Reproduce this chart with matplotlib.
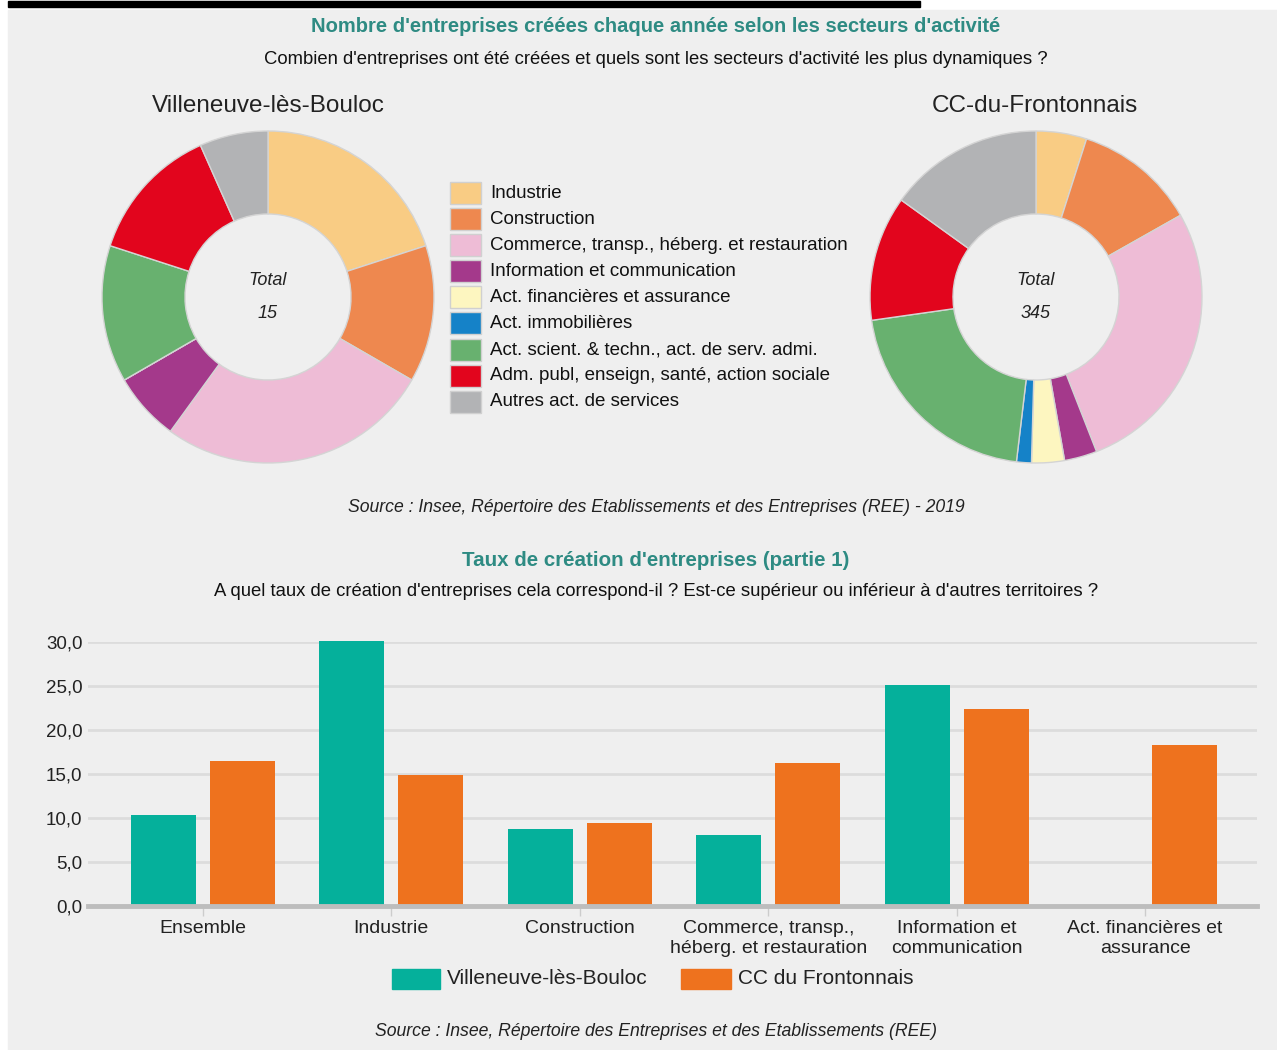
import matplotlib
matplotlib.use("Agg")
import matplotlib.pyplot as plt
from matplotlib.patches import Rectangle
import numpy as np

plt.rcParams['font.family'] = ['Liberation Sans', 'DejaVu Sans']

W, H = 1277, 1050

# donut data
sectors = ["Industrie", "Construction", "Commerce, transp., héberg. et restauration",
           "Information et communication", "Act. financières et assurance",
           "Act. immobilières", "Act. scient. & techn., act. de serv. admi.",
           "Adm. publ, enseign, santé, action sociale", "Autres act. de services"]
sector_colors = ["#f9cc84", "#ee884f", "#eebcd6", "#a4398b", "#fdf6c0",
                 "#1582c8", "#68b16f", "#e2051d", "#b2b3b5"]
villeneuve_counts = [3, 2, 4, 1, 0, 0, 2, 2, 1]
frontonnais_counts = [17, 41, 94, 11, 11, 5, 72, 42, 52]

# bar data
rate_categories = ["Ensemble", "Industrie", "Construction",
                   "Commerce, transp.,\nhéberg. et restauration",
                   "Information et\ncommunication", "Act. financières et\nassurance"]
rate_villeneuve = [10.3, 30.1, 8.7, 8.1, 25.1, 0.0]
rate_frontonnais = [16.5, 14.9, 9.4, 16.3, 22.4, 18.3]
yticks = [0, 5, 10, 15, 20, 25, 30]

TEAL_TXT = "#2e8b83"
C_VIL = "#05b09b"
C_CC = "#ee721e"


def fx(px):
    return px / W


def fy(py):
    return 1 - py / H


def box(x0, y0, x1, y1):
    # pixel box (top-left origin) -> figure rect
    return [fx(x0), fy(y1), (x1 - x0) / W, (y1 - y0) / H]


fig = plt.figure(figsize=(W / 100, H / 100), dpi=100)
fig.patch.set_facecolor("white")

# grey panel + cut-off heading underline
fig.patches.append(Rectangle((fx(8), fy(H)), 1 - fx(8), fy(10) - fy(H),
                             transform=fig.transFigure, color="#efefef", zorder=-10))
fig.patches.append(Rectangle((fx(8), fy(7)), fx(920) - fx(8), fy(1) - fy(7),
                             transform=fig.transFigure, color="black", zorder=-5))

# titles
fig.text(fx(656), fy(26), "Nombre d'entreprises créées chaque année selon les secteurs d'activité",
         ha="center", va="center", fontsize=14.5, fontweight="bold", color=TEAL_TXT)
fig.text(fx(656), fy(60), "Combien d'entreprises ont été créées et quels sont les secteurs d'activité les plus dynamiques ?",
         ha="center", va="center", fontsize=13.3, color="#111111")
fig.text(fx(268), fy(106), "Villeneuve-lès-Bouloc", ha="center", va="center", fontsize=17.5, color="#222222")
fig.text(fx(1035), fy(106), "CC-du-Frontonnais", ha="center", va="center", fontsize=17.5, color="#222222")


def donut(cx, cy, r, counts):
    ax = fig.add_axes(box(cx - r, cy - r, cx + r, cy + r))
    ax.pie(counts, colors=sector_colors, startangle=90, counterclock=False, radius=1,
           wedgeprops=dict(width=0.5, edgecolor="#d4d4d4", linewidth=1))
    ax.set_xlim(-1, 1)
    ax.set_ylim(-1, 1)
    ax.set_aspect("equal")
    ax.axis("off")
    ax.text(0, 0.1, "Total", ha="center", va="center", fontsize=13, style="italic", color="#222222")
    ax.text(0, -0.1, str(sum(counts)), ha="center", va="center", fontsize=13, style="italic", color="#222222")
    return ax


donut(268, 297, 166, villeneuve_counts)
donut(1036, 297, 166, frontonnais_counts)

# legend of sectors
for i, (lab, col) in enumerate(zip(sectors, sector_colors)):
    yc = 193 + i * 26.1
    fig.patches.append(Rectangle((fx(450), fy(yc + 11)), (481 - 450) / W, 22 / H,
                                 transform=fig.transFigure, facecolor=col,
                                 edgecolor="#d0d0d0", linewidth=1))
    fig.text(fx(490), fy(yc), lab, ha="left", va="center", fontsize=13.5, color="#111111")

fig.text(fx(656), fy(507), "Source : Insee, Répertoire des Etablissements et des Entreprises (REE) - 2019",
         ha="center", va="center", fontsize=12.7, style="italic", color="#222222")

fig.text(fx(656), fy(561), "Taux de création d'entreprises (partie 1)",
         ha="center", va="center", fontsize=14.8, fontweight="bold", color=TEAL_TXT)
fig.text(fx(656), fy(592), "A quel taux de création d'entreprises cela correspond-il ? Est-ce supérieur ou inférieur à d'autres territoires ?",
         ha="center", va="center", fontsize=13.3, color="#111111")

# bar chart
ax = fig.add_axes(box(88, 642, 1257, 906))
ax.set_facecolor("none")
x = np.arange(len(rate_categories))
bw = 0.345
ax.bar(x - 0.21, rate_villeneuve, bw, color=C_VIL, clip_on=False, zorder=3)
ax.bar(x + 0.21, rate_frontonnais, bw, color=C_CC, clip_on=False, zorder=3)
ax.set_xlim(-0.61, len(rate_categories) - 1 + 0.594)
ax.set_ylim(0, 30)
ax.set_yticks(yticks)
ax.set_yticklabels([f"{v:.1f}".replace(".", ",") for v in yticks], fontsize=13.5, color="#222222")
ax.yaxis.grid(True, color="#dcdcdc", linewidth=2)
ax.set_axisbelow(True)
for s in ["top", "right", "left"]:
    ax.spines[s].set_visible(False)
ax.spines["bottom"].set_color("#bdbdbd")
ax.spines["bottom"].set_linewidth(3.5)
ax.spines["bottom"].set_zorder(4)
ax.tick_params(axis="y", length=0, pad=4)
ax.set_xticks(x)
ax.set_xticklabels(rate_categories, fontsize=14, color="#222222", linespacing=1.25)
ax.tick_params(axis="x", length=7, color="#cccccc", width=1, pad=3)

# bar legend
leg_items = [("Villeneuve-lès-Bouloc", C_VIL, 392, 440), ("CC du Frontonnais", C_CC, 681, 731)]
for lab, col, x0, x1 in leg_items:
    fig.patches.append(Rectangle((fx(x0), fy(989)), (x1 - x0) / W, 20 / H,
                                 transform=fig.transFigure, color=col))
    fig.text(fx(x1 + 7), fy(979), lab, ha="left", va="center", fontsize=15, color="#222222")

fig.text(fx(656), fy(1031), "Source : Insee, Répertoire des Entreprises et des Etablissements (REE)",
         ha="center", va="center", fontsize=12.7, style="italic", color="#222222")

fig.savefig("out.png", dpi=100)
